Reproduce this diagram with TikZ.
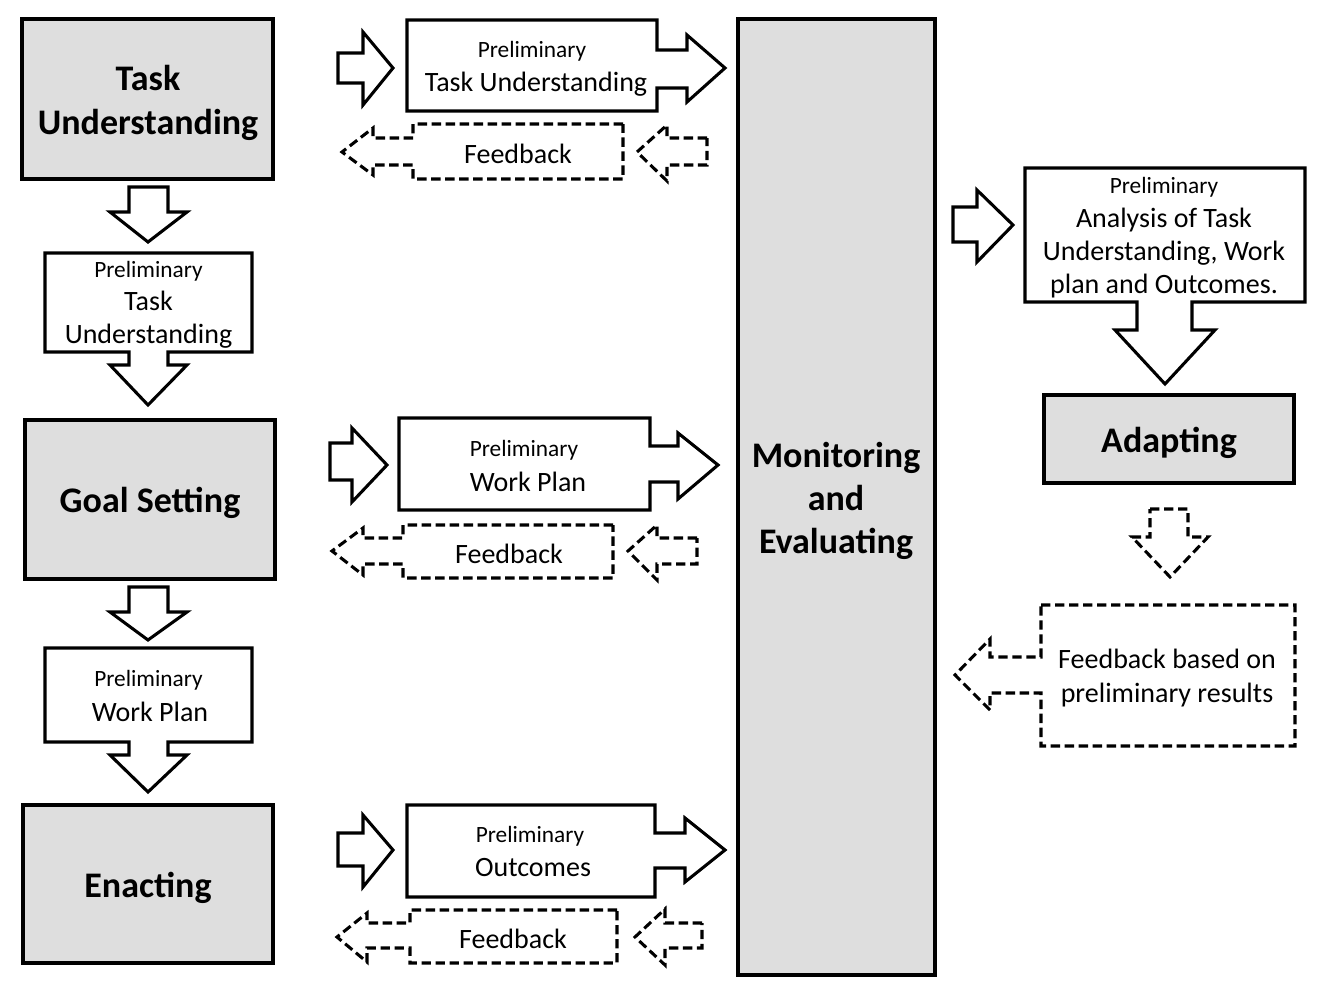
\documentclass[tikz,border=0pt]{standalone}
\usepackage{fontspec}
\setmainfont{Carlito}
\definecolor{boxgray}{RGB}{222,222,222}
\begin{document}
\begin{tikzpicture}[x=0.75pt,y=-0.75pt,
  solidshape/.style={draw=black,line width=2.3pt,line join=miter,fill=white},
  grayshape/.style={draw=black,line width=2.3pt,fill=boxgray},
  dashshape/.style={draw=black,line width=2.3pt,dash pattern=on 7pt off 3.5pt,fill=white},
  bigtxt/.style={font=\fontsize{27}{32.5}\selectfont\bfseries,align=center,inner sep=0pt,yshift=-2.2pt},
  midtxt/.style={font=\fontsize{21}{25}\selectfont,align=center,inner sep=0pt,yshift=-1.5pt},
  smalltxt/.style={font=\fontsize{17.5}{21}\selectfont,align=center,inner sep=0pt,yshift=-1.2pt}]
\useasboundingbox (0,0) rectangle (1320,1004);

% ---------- Left column ----------
\draw[grayshape] (22,19) rectangle (273,179);
\node[bigtxt] (tu) at (148,100) {Task\\Understanding};

\draw[solidshape] (129,187)--(168,187)--(168,212)--(187,212)--(148,242)--(110,212)--(129,212)--cycle;

\draw[solidshape] (45,253)--(252,253)--(252,352)--(168,352)--(168,365)--(187,365)--(148,405)--(110,365)--(129,365)--(129,352)--(45,352)--cycle;
\node[smalltxt] (ptu1) at (148.5,270) {Preliminary};
\node[midtxt] (ptu2) at (148.5,318) {Task\\Understanding};

\draw[grayshape] (25,420) rectangle (275,579);
\node[bigtxt] (gs) at (150,500) {Goal Setting};

\draw[solidshape] (129,587)--(168,587)--(168,612)--(187,612)--(148,640)--(110,612)--(129,612)--cycle;

\draw[solidshape] (45,648)--(252,648)--(252,742)--(168,742)--(168,755)--(187,755)--(148,792)--(110,755)--(129,755)--(129,742)--(45,742)--cycle;
\node[smalltxt] (pwp1) at (148.5,679) {Preliminary};
\node[midtxt] (pwp2) at (150,710) {Work Plan};

\draw[grayshape] (23,805) rectangle (273,963);
\node[bigtxt] (en) at (148,885) {Enacting};

% ---------- Middle column, row 1 ----------
\draw[solidshape] (338,53)--(363,53)--(363,32)--(393,68)--(363,105)--(363,83)--(338,83)--cycle;
\draw[solidshape] (407,20)--(657,20)--(657,50)--(687,50)--(687,35)--(725,68)--(687,102)--(687,88)--(657,88)--(657,111)--(407,111)--cycle;
\node[smalltxt] (r1a) at (532,50) {Preliminary};
\node[midtxt] (r1b) at (536,82) {Task Understanding};
\draw[dashshape] (623,124)--(413,124)--(413,138)--(373,138)--(373,128)--(342,152)--(373,175)--(373,165)--(413,165)--(413,179)--(623,179)--cycle;
\node[midtxt] (fb1) at (518,152) {Feedback};
\draw[dashshape] (707,138)--(667,138)--(667,125)--(637,152)--(667,181)--(667,165)--(707,165)--cycle;

% ---------- Middle column, row 2 ----------
\draw[solidshape] (330,443)--(352,443)--(352,428)--(387,465)--(352,502)--(352,480)--(330,480)--cycle;
\draw[solidshape] (399,418)--(650,418)--(650,446)--(678,446)--(678,433)--(718,465)--(678,499)--(678,482)--(650,482)--(650,510)--(399,510)--cycle;
\node[smalltxt] (r2a) at (524,449) {Preliminary};
\node[midtxt] (r2b) at (528,480) {Work Plan};
\draw[dashshape] (613,525)--(403,525)--(403,538)--(363,538)--(363,528)--(332,551)--(363,575)--(363,564)--(403,564)--(403,578)--(613,578)--cycle;
\node[midtxt] (fb2) at (509,552) {Feedback};
\draw[dashshape] (697,538)--(657,538)--(657,525)--(628,551)--(657,580)--(657,564)--(697,564)--cycle;

% ---------- Middle column, row 3 ----------
\draw[solidshape] (338,833)--(363,833)--(363,815)--(393,850)--(363,887)--(363,866)--(338,866)--cycle;
\draw[solidshape] (407,805)--(655,805)--(655,833)--(685,833)--(685,818)--(725,850)--(685,882)--(685,868)--(655,868)--(655,897)--(407,897)--cycle;
\node[smalltxt] (r3a) at (530,835) {Preliminary};
\node[midtxt] (r3b) at (533,866) {Outcomes};
\draw[dashshape] (617,910)--(410,910)--(410,923)--(367,923)--(367,913)--(337,937)--(367,962)--(367,948)--(410,948)--(410,963)--(617,963)--cycle;
\node[midtxt] (fb3) at (513,937) {Feedback};
\draw[dashshape] (702,923)--(665,923)--(665,909)--(635,937)--(665,965)--(665,948)--(702,948)--cycle;

% ---------- Monitoring ----------
\draw[grayshape] (738,19) rectangle (935,975);
\node[bigtxt,font=\fontsize{27}{32}\selectfont\bfseries] (me) at (836,498) {Monitoring\\and\\Evaluating};

% ---------- Right column ----------
\draw[solidshape] (953,207)--(977,207)--(977,190)--(1013,225)--(977,262)--(977,242)--(953,242)--cycle;
\draw[solidshape] (1025,168)--(1305,168)--(1305,302)--(1192,302)--(1192,330)--(1215,330)--(1165,384)--(1115,330)--(1137,330)--(1137,302)--(1025,302)--cycle;
\node[smalltxt] (an1) at (1164,186) {Preliminary};
\node[midtxt,font=\fontsize{21}{25}\selectfont] (an2) at (1164,251) {Analysis of Task\\Understanding, Work\\plan and Outcomes.};

\draw[grayshape] (1044,395) rectangle (1294,483);
\node[bigtxt] (ad) at (1169,440) {Adapting};

\draw[dashshape] (1150,509)--(1188,509)--(1188,537)--(1208,537)--(1170,577)--(1132,537)--(1150,537)--cycle;

\draw[dashshape] (1041,605)--(1295,605)--(1295,746)--(1041,746)--(1041,693)--(990,693)--(990,710)--(955,675)--(990,639)--(990,657)--(1041,657)--cycle;
\node[midtxt,font=\fontsize{21}{25.5}\selectfont] (fbr) at (1167,676) {Feedback based on\\preliminary results};
\end{tikzpicture}
\end{document}
